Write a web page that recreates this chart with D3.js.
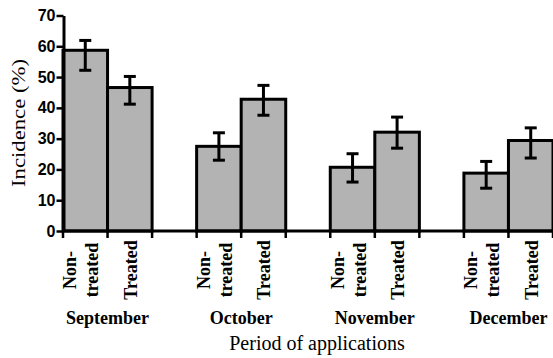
<!DOCTYPE html>
<html>
<head>
<meta charset="utf-8">
<script src="https://cdn.jsdelivr.net/npm/d3@7"></script>
<style>
  body { margin: 0; background: #fff; }
</style>
</head>
<body>
<div id="chart-container"></div>
<script>
// Data
const months = ["September", "October", "November", "December"];
const treatments = ["Non-treated", "Treated"];
const treatmentLabels = [["Non-", "treated"], ["Treated"]];
const nonTreated = [58.7, 27.5, 20.7, 18.8];
const nonTreatedLow = [52.2, 23.0, 15.9, 13.9];
const nonTreatedHigh = [61.9, 31.9, 25.1, 22.6];
const treated = [46.6, 42.8, 32.1, 29.4];
const treatedLow = [41.2, 37.6, 26.9, 23.7];
const treatedHigh = [50.2, 47.3, 37.0, 33.5];
const yTicks = [0, 10, 20, 30, 40, 50, 60, 70];

const width = 553, height = 358;
const serif = "Liberation Serif";

const svg = d3.select("#chart-container")
  .append("svg")
    .attr("width", width)
    .attr("height", height);

// Scales
const x0 = d3.scaleBand()
  .domain(months)
  .range([63, 553])
  .paddingInner(1 / 3)
  .paddingOuter(0);

const x1 = d3.scaleBand()
  .domain(treatments)
  .range([0, x0.bandwidth()]);

const y = d3.scaleLinear()
  .domain([0, 70])
  .range([231, 15.5]);

// one row per bar
const rows = months.flatMap((m, i) => [
  {month: m, t: treatments[0], v: nonTreated[i], lo: nonTreatedLow[i], hi: nonTreatedHigh[i]},
  {month: m, t: treatments[1], v: treated[i], lo: treatedLow[i], hi: treatedHigh[i]}
]);

// Bars
svg.selectAll(".bar")
  .data(rows)
  .join("rect")
  .attr("class", "bar")
  .attr("x", d => x0(d.month) + x1(d.t))
  .attr("y", d => y(d.v))
  .attr("width", x1.bandwidth())
  .attr("height", d => y(0) - y(d.v))
  .attr("fill", "#b3b3b3")
  .attr("stroke", "#000")
  .attr("stroke-width", 3);

// Error bars
const cx = d => x0(d.month) + x1(d.t) + x1.bandwidth() / 2;
const err = svg.selectAll(".err")
  .data(rows)
  .join("g")
  .attr("class", "err")
  .attr("stroke", "#000")
  .attr("stroke-width", 3);
err.append("line")
  .attr("x1", cx).attr("x2", cx)
  .attr("y1", d => y(d.lo)).attr("y2", d => y(d.hi));
err.append("line")
  .attr("x1", d => cx(d) - 6).attr("x2", d => cx(d) + 6)
  .attr("y1", d => y(d.hi)).attr("y2", d => y(d.hi));
err.append("line")
  .attr("x1", d => cx(d) - 6).attr("x2", d => cx(d) + 6)
  .attr("y1", d => y(d.lo)).attr("y2", d => y(d.lo));

// Y axis
const yAxis = svg.append("g")
  .attr("transform", "translate(63.5,0)")
  .call(d3.axisLeft(y)
    .tickValues(yTicks)
    .tickSize(7)
    .tickSizeOuter(0)
    .tickPadding(1));
yAxis.select(".domain").attr("stroke-width", 3);
yAxis.selectAll(".tick line").attr("stroke-width", 2.5);
yAxis.selectAll(".tick text")
  .attr("fill", "#000")
  .attr("font-family", "Liberation Sans")
  .attr("font-weight", "bold")
  .attr("font-size", 16);

// X axis line and ticks at bar edges
svg.append("line")
  .attr("x1", x0.range()[0]).attr("x2", x0.range()[1])
  .attr("y1", y(0)).attr("y2", y(0))
  .attr("stroke", "#000")
  .attr("stroke-width", 3);

const edges = months.flatMap(m => [x0(m), x0(m) + x1.bandwidth(), x0(m) + x0.bandwidth()]);
svg.selectAll(".xtick")
  .data(edges)
  .join("line")
  .attr("class", "xtick")
  .attr("x1", d => d).attr("x2", d => d)
  .attr("y1", y(0)).attr("y2", y(0) + 7)
  .attr("stroke", "#000")
  .attr("stroke-width", 2.5);

// Rotated treatment labels
const lab = svg.selectAll(".tlabel")
  .data(rows)
  .join("text")
  .attr("class", "tlabel")
  .attr("transform", d => {
    const lines = treatmentLabels[treatments.indexOf(d.t)];
    const off = lines.length === 1 ? 7 : -9;
    return `translate(${cx(d) + off},270) rotate(-90)`;
  })
  .attr("text-anchor", "middle")
  .attr("font-family", serif)
  .attr("font-weight", "bold")
  .attr("font-size", 18);
lab.selectAll("tspan")
  .data(d => treatmentLabels[treatments.indexOf(d.t)])
  .join("tspan")
  .attr("x", 0)
  .attr("dy", (d, i) => i === 0 ? 0 : 22)
  .text(d => d);

// Month labels
svg.selectAll(".mlabel")
  .data(months)
  .join("text")
  .attr("class", "mlabel")
  .attr("x", d => x0(d) + x0.bandwidth() / 2)
  .attr("y", 324)
  .attr("text-anchor", "middle")
  .attr("font-family", serif)
  .attr("font-weight", "bold")
  .attr("font-size", 18)
  .text(d => d);

// Axis titles
svg.append("text")
  .attr("x", 317)
  .attr("y", 350)
  .attr("text-anchor", "middle")
  .attr("font-family", serif)
  .attr("font-size", 20)
  .text("Period of applications");

svg.append("text")
  .attr("transform", "translate(25,123) rotate(-90)")
  .attr("text-anchor", "middle")
  .attr("textLength", 128)
  .attr("lengthAdjust", "spacingAndGlyphs")
  .attr("font-family", serif)
  .attr("font-size", 19)
  .text("Incidence (%)");
</script>
</body>
</html>
